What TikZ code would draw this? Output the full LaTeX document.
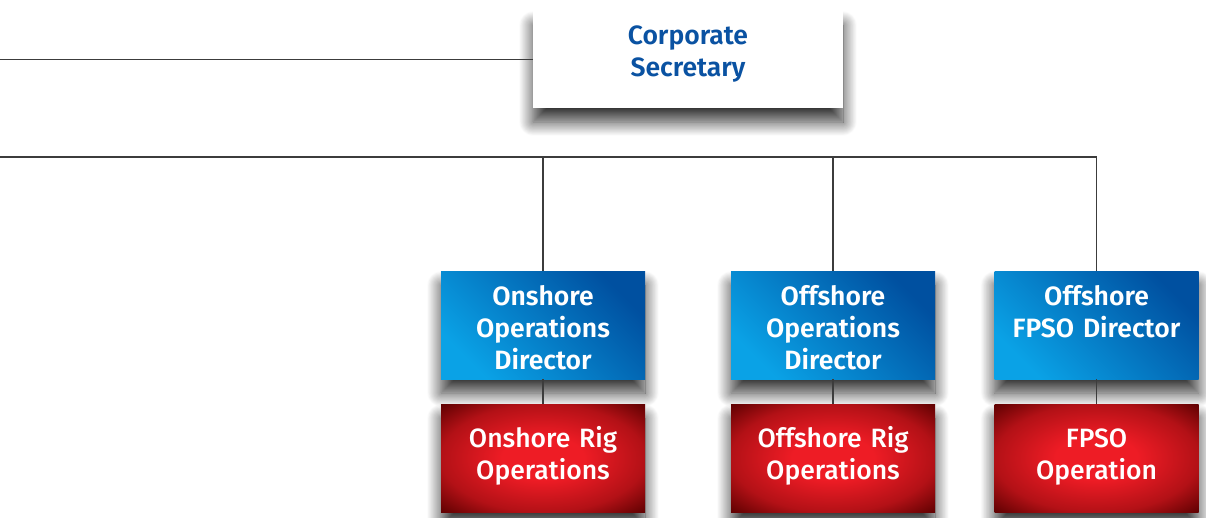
\documentclass[tikz,border=0pt]{standalone}
\usepackage{fontspec}
\setmainfont{Fira Sans}[BoldFont=* SemiBold]
\newfontfamily\medfont{Fira Sans Medium}
\usetikzlibrary{shadows.blur}
\definecolor{corpblue}{HTML}{0A52A2}
\definecolor{dirlight}{HTML}{0AA2E6}
\definecolor{dirdark}{HTML}{0050A0}
\definecolor{opslight}{HTML}{EE1C25}
\definecolor{opsdark}{HTML}{5A0000}
\definecolor{linegray}{HTML}{3C3C3C}
\pgfdeclareradialshading{opsglow}{\pgfpoint{0bp}{0bp}}{%
  color(0bp)=(opslight); color(10bp)=(opslight); color(25bp)=(opsdark!40!opslight);
  color(36bp)=(opsdark); color(50bp)=(opsdark)}
%% box text: height, first baseline, lines
\newcommand\orgtext[3]{\parbox[c][#1][t]{\linewidth}{\centering\rule{0pt}{#2}#3}}
\tikzset{
  boxshadow/.style={blur shadow={shadow xshift=0pt, shadow yshift=-14pt, shadow blur radius=14pt,
    shadow blur steps=24, shadow opacity=80}},
  orgbox/.style={boxshadow, inner sep=0pt},
  corpbox/.style={orgbox, fill=white, text=corpblue, text width=310pt, minimum height=97pt,
    font=\bfseries\fontsize{26.5}{32}\selectfont},
  dirbox/.style={orgbox, left color=dirlight, middle color=dirdark!80!dirlight, right color=dirdark,
    shading angle=135, text=white, text width=204pt, minimum height=108pt,
    font=\bfseries\fontsize{26.5}{32}\selectfont},
  opsbox/.style={orgbox, shading=opsglow, text=white, text width=204pt, minimum height=108pt,
    font=\medfont\fontsize{26.5}{32}\selectfont},
  orgline/.style={draw=linegray, line width=1.3pt}
}

\begin{document}
\begin{tikzpicture}[x=1pt, y=-1pt]

  \useasboundingbox (0,0) rectangle (1206,517);

  %% top
  \node[corpbox] (corp) at (688,59.5) {\orgtext{97pt}{33pt}{Corporate\\Secretary}};

  %% directors
  \node[dirbox] (ondir)   at (543,325)    {\orgtext{108pt}{34pt}{Onshore\\Operations\\Director}};
  \node[dirbox] (offdir)  at (833,325)    {\orgtext{108pt}{34pt}{Offshore\\Operations\\Director}};
  \node[dirbox] (fpsodir) at (1096.5,325) {\orgtext{108pt}{34pt}{Offshore\\FPSO Director}};

  %% operations
  \node[opsbox] (onops)   at (543,458)    {\orgtext{108pt}{43pt}{Onshore Rig\\Operations}};
  \node[opsbox] (offops)  at (833,458)    {\orgtext{108pt}{43pt}{Offshore Rig\\Operations}};
  \node[opsbox] (fpsoops) at (1096.5,458) {\orgtext{108pt}{43pt}{FPSO\\Operation}};

  \coordinate (topleft) at (0,59.5);
  \coordinate (busleft) at (0,157);

  \draw[orgline] (topleft) -- (corp.west); %% -> corp
  \draw[orgline] (busleft) -| (fpsodir.north); %% bus
  \draw[orgline] (ondir.north) -- (ondir.north |- busleft);
  \draw[orgline] (offdir.north) -- (offdir.north |- busleft);

  \draw[orgline] (ondir.south) -- (onops.north);
  \draw[orgline] (offdir.south) -- (offops.north);
  \draw[orgline] (fpsodir.south) -- (fpsoops.north);

\end{tikzpicture}
\end{document}
